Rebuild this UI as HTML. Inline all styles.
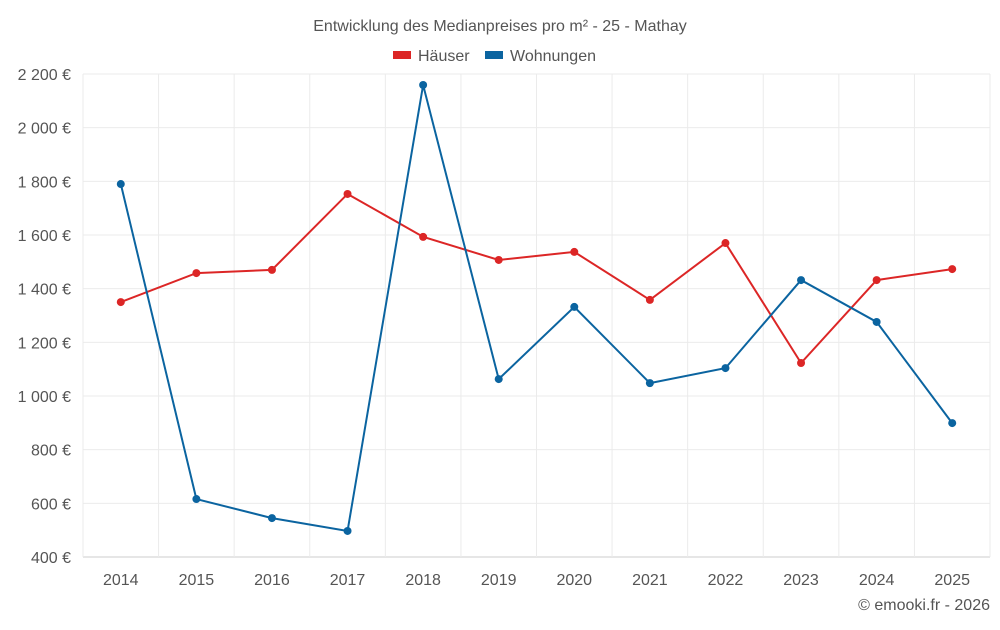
<!DOCTYPE html>
<html><head><meta charset="utf-8"><style>
body{margin:0;background:#fff;font-family:"Liberation Sans",sans-serif;}
svg text{font-family:"Liberation Sans",sans-serif;fill:#555;}
</style></head><body>
<svg id="chart" width="1000" height="625">
<text x="500" y="31" text-anchor="middle" font-size="16">Entwicklung des Medianpreises pro m² - 25 - Mathay</text>
<g>
<rect x="393" y="51" width="18" height="8" fill="#dc2626"/>
<text x="418" y="61" font-size="16">Häuser</text>
<rect x="485" y="51" width="18" height="8" fill="#0b64a0"/>
<text x="510" y="61" font-size="16">Wohnungen</text>
</g>
<g id="grid"></g><g id="axes"></g><g id="series"></g>
<text x="990" y="610" text-anchor="end" font-size="16">© emooki.fr - 2026</text>
</svg>
<script>
const years=[2014,2015,2016,2017,2018,2019,2020,2021,2022,2023,2024,2025];
const houses=[1350,1458,1470,1753,1593,1507,1537,1358,1570,1123,1432,1473];
const apartments=[1790,616,545,497,2159,1063,1332,1048,1104,1432,1276,899];
const yTicks=[400,600,800,1000,1200,1400,1600,1800,2000,2200];
const yTickLabels=["400 €","600 €","800 €","1 000 €","1 200 €","1 400 €","1 600 €","1 800 €","2 000 €","2 200 €"];
const L=83,R=990,T=74,B=557,ymin=400,ymax=2200;
const bw=(R-L)/years.length;
const xs=i=>L+bw*(i+0.5);
const ys=v=>B-(v-ymin)/(ymax-ymin)*(B-T);
const NS="http://www.w3.org/2000/svg";
function mk(tag,attrs,parent){const e=document.createElementNS(NS,tag);for(const k in attrs)e.setAttribute(k,attrs[k]);document.getElementById(parent).appendChild(e);return e;}
yTicks.forEach((v,i)=>{
 const l=mk('line',{x1:L,x2:R,y1:ys(v),y2:ys(v),stroke:i===0?'#ccc':'#ebebeb','stroke-width':1},'grid');
 
 
 const t=mk('text',{x:L-12,y:ys(v)+6,'text-anchor':'end','font-size':16},'axes');
 t.textContent=yTickLabels[i];
 
 
});
for(let i=0;i<=years.length;i++){
 const l=mk('line',{x1:L+bw*i,x2:L+bw*i,y1:T,y2:B,stroke:'#ebebeb','stroke-width':1},'grid');
 
 
}
years.forEach((y,i)=>{
 const t=mk('text',{x:xs(i),y:585,'text-anchor':'middle','font-size':16},'axes');
 t.textContent=y;
 
 
});
function series(vals,color,name){
 const p=mk('polyline',{points:vals.map((v,i)=>xs(i)+','+ys(v)).join(' '),fill:'none',stroke:color,'stroke-width':2},'series');
 
 
 vals.forEach((v,i)=>{
  const c=mk('circle',{cx:xs(i),cy:ys(v),r:4,fill:color},'series');
  
  
 });
}
series(houses,'#dc2626','houses');
series(apartments,'#0b64a0','apartments');
</script>
</body></html>
